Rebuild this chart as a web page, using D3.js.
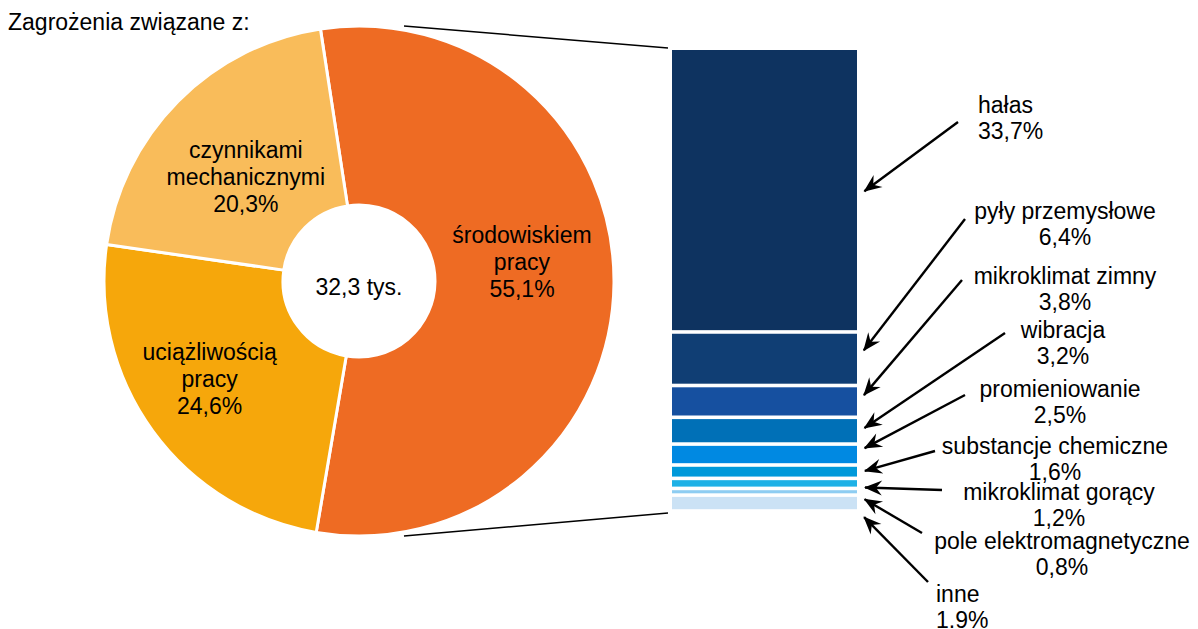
<!DOCTYPE html>
<html><head><meta charset="utf-8">
<script src="https://cdn.jsdelivr.net/npm/d3@7"></script>
<style>body{margin:0;background:#fff}svg text{font-family:"Liberation Sans",Arial,sans-serif;fill:#000}</style>
</head><body><svg id="c" width="1198" height="629"></svg>
<script>
// ---- data ----
const title = "Zagrożenia związane z:";
const pieLabelLines = [["środowiskiem","pracy"],["uciążliwością","pracy"],["czynnikami","mechanicznymi"]];
const pieValues = [55.1, 24.6, 20.3];
const pieValueLabels = ["55,1%","24,6%","20,3%"];
const pieColors = ["#EE6B23","#F6A70B","#F9BC5A"];
const totalLabel = "32,3 tys.";
const barCategories = ["hałas","pyły przemysłowe","mikroklimat zimny","wibracja","promieniowanie","substancje chemiczne","mikroklimat gorący","pole elektromagnetyczne","inne"];
const barValues = [33.7, 6.4, 3.8, 3.2, 2.5, 1.6, 1.2, 0.8, 1.9];
const barValueLabels = ["33,7%","6,4%","3,8%","3,2%","2,5%","1,6%","1,2%","0,8%","1.9%"];
const barColors = ["#0E3360","#103E74","#1650A0","#0070B7","#0089E2","#0099DA","#1EB1E6","#8ECDF2","#CBE2F5"];

// ---- layout (annotation positions) ----
const pieLabelOffsets = [[-2,-20],[-16,1],[4,12]];
const rightLabelPos = [ // [x, y of first line, anchor]
  [978,105,"start"],[1065,211,"middle"],[1065,276,"middle"],[1063,330,"middle"],[1060,389,"middle"],
  [1055,446,"middle"],[1059,492,"middle"],[1062,541,"middle"],[936,594,"start"]];
const arrowStart = [[958,122],[965,219],[962,280],[1005,333],[965,395],[935,451],[942,490],[922,533],[928,582]];
const arrowEndDy = [2,-6,-4,-1,-5,0,4,6,12];

const svg = d3.select("#c");
const FS = 23;

// title
svg.append("text").attr("x",8).attr("y",30).attr("font-size",FS).text(title);

// ---- donut ----
const cx = 359, cy = 281, R = 255, r0 = 76;
const startA = -8.7*Math.PI/180;
const pie = d3.pie().sort(null).value(d=>d).startAngle(startA).endAngle(startA+2*Math.PI);
const arcs = pie(pieValues);
const arc = d3.arc().innerRadius(r0).outerRadius(R);
const g = svg.append("g").attr("transform",`translate(${cx},${cy})`);
g.selectAll("path").data(arcs).join("path")
  .attr("d",arc).attr("fill",(d,i)=>pieColors[i]).attr("stroke","#fff").attr("stroke-width",3);
const labelArc = d3.arc().innerRadius(165).outerRadius(165);
arcs.forEach((a,i)=>{
  const [x,y] = labelArc.centroid(a);
  const lx = x + pieLabelOffsets[i][0], ly = y + pieLabelOffsets[i][1];
  const lines = pieLabelLines[i].concat([pieValueLabels[i]]);
  lines.forEach((t,j)=>{
    g.append("text").attr("x",lx).attr("y",ly + (j-1)*27 + 8)
      .attr("text-anchor","middle").attr("font-size",FS).text(t);
  });
});
g.append("text").attr("x",0).attr("y",14).attr("text-anchor","middle").attr("font-size",FS).text(totalLabel);

// ---- stacked bar ----
const bx0 = 672, bx1 = 857;
const total = d3.sum(barValues);
const y = d3.scaleLinear().domain([0,total]).range([50,511]);
let cum = 0;
const segs = barValues.map((v,i)=>{ const s={i,v,y0:cum,y1:cum+v}; cum+=v; return s; });
svg.append("g").selectAll("rect").data(segs).join("rect")
  .attr("x",bx0).attr("width",bx1-bx0)
  .attr("y",d=>y(d.y0)+ (d.i===0?0:1.8))
  .attr("height",d=>y(d.y1)-y(d.y0)-(d.i===0?1.8:3.6))
  .attr("fill",d=>barColors[d.i]);

// connector lines
const ang = 10*Math.PI/180;
svg.append("line").attr("x1",cx+(R+4)*Math.sin(ang)).attr("y1",cy-(R+4)*Math.cos(ang))
  .attr("x2",bx0-4).attr("y2",y(0)-2).attr("stroke","#000").attr("stroke-width",1.5);
svg.append("line").attr("x1",cx+(R+4)*Math.sin(ang)).attr("y1",cy+(R+4)*Math.cos(ang))
  .attr("x2",bx0-4).attr("y2",y(total)+2).attr("stroke","#000").attr("stroke-width",1.5);

// arrow marker
svg.append("defs").append("marker").attr("id","ah")
  .attr("viewBox","-18 -9 20 18").attr("refX",0).attr("refY",0)
  .attr("markerWidth",20).attr("markerHeight",18).attr("markerUnits","userSpaceOnUse")
  .attr("orient","auto")
  .append("path").attr("d","M1,0 L-17,-7.5 L-11,0 L-17,7.5 Z").attr("fill","#000");

segs.forEach((s,i)=>{
  const ex = bx1 + 5, ey = (y(s.y0)+y(s.y1))/2 + arrowEndDy[i];
  const [sx,sy] = arrowStart[i];
  const dx = ex-sx, dy = ey-sy, L = Math.hypot(dx,dy);
  svg.append("line").attr("x1",sx).attr("y1",sy)
    .attr("x2",ex - dx/L*3).attr("y2",ey - dy/L*3)
    .attr("stroke","#000").attr("stroke-width",2.4).attr("marker-end","url(#ah)");
  const [lx,ly,anc] = rightLabelPos[i];
  svg.append("text").attr("x",lx).attr("y",ly+8).attr("text-anchor",anc).attr("font-size",FS).text(barCategories[i]);
  svg.append("text").attr("x",lx).attr("y",ly+26+8).attr("text-anchor",anc).attr("font-size",FS).text(barValueLabels[i]);
});
</script></body></html>
